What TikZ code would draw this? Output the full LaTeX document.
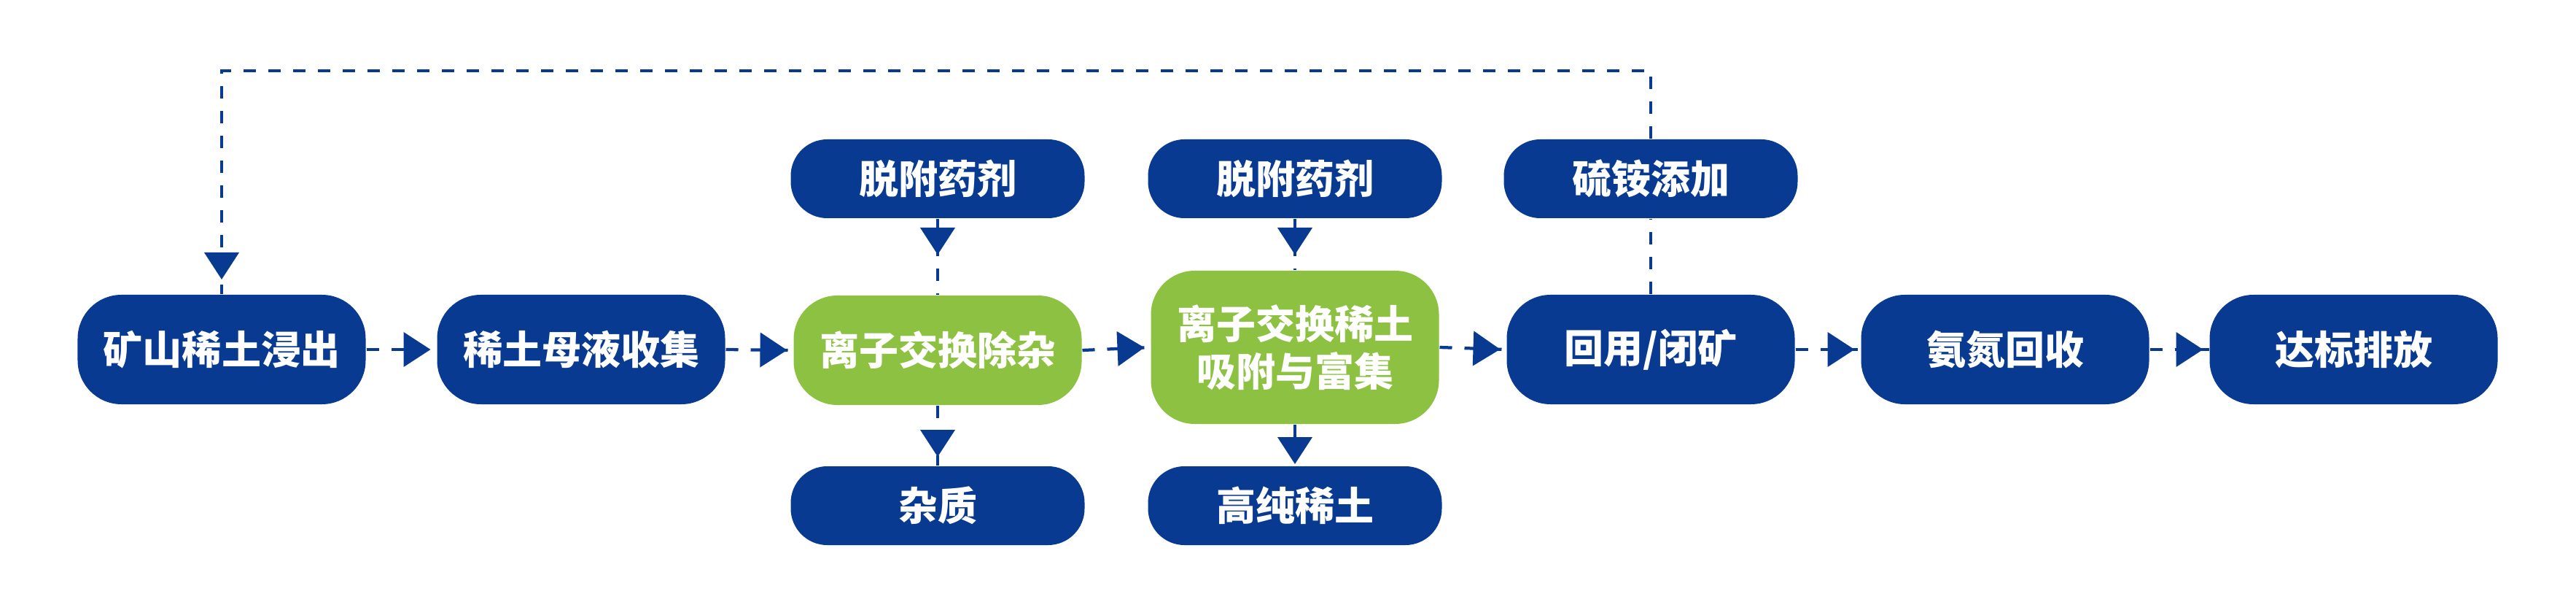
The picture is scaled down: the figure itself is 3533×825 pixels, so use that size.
\documentclass[tikz,border=0pt]{standalone}
\usepackage{fontspec}
\newfontfamily\cjk{Noto Sans CJK SC}
\usetikzlibrary{arrows.meta,decorations.markings}
\definecolor{navy}{RGB}{8,58,146}
\definecolor{leaf}{RGB}{141,193,65}
\tikzset{
  mainbox/.style={rectangle, rounded corners=12pt, fill=navy, text=white,
    minimum width=79pt, minimum height=30pt, inner sep=0pt, align=center,
    font=\cjk\bfseries\fontsize{10.8pt}{13pt}\selectfont},
  sidebox/.style={mainbox, minimum height=21.6pt, minimum width=80.6pt, rounded corners=10pt},
  greenbox/.style={mainbox, fill=leaf},
  flow/.style={draw=navy, line width=0.85pt, dash pattern=on 3.4pt off 3.4pt},
  arrowat/.style={postaction={decorate}, decoration={markings,
    mark=at position #1 with {\arrow{Triangle[length=7.4pt,width=9.4pt]}}}}
}
\begin{document}
\begin{tikzpicture}[x=0.2pt, y=-0.2pt]
\useasboundingbox[fill=white] (0,0) rectangle (3533,825);
% main row
\node[mainbox]  (n1) at (304,479)  {矿山稀土浸出};
\node[mainbox]  (n2) at (797,479)  {稀土母液收集};
\node[greenbox] (n3) at (1286,480) {离子交换除杂};
\node[greenbox, minimum height=42pt] (n4) at (1776,476) {离子交换稀土\\吸附与富集};
\node[mainbox]  (n5) at (2264,479) {回用/闭矿};
\node[mainbox]  (n6) at (2750,479) {氨氮回收};
\node[mainbox]  (n7) at (3228,479) {达标排放};
% top row
\node[sidebox] (t1) at (1286,245) {脱附药剂};
\node[sidebox] (t2) at (1776,245) {脱附药剂};
\node[sidebox] (t3) at (2264,245) {硫铵添加};
% bottom row
\node[sidebox] (b1) at (1286,693) {杂质};
\node[sidebox] (b2) at (1776,693) {高纯稀土};
% loop corners
\coordinate (lr) at (2264,97);
\coordinate (ll) at (304,97);
% horizontal connectors
\draw[flow, arrowat=-1.6pt] (n1.east) -- (n2.west);
\draw[flow, arrowat=-1.6pt] (n2.east) -- (n3.west);
\draw[flow, arrowat=-1.6pt] (n3.east) -- (n4.west);
\draw[flow, arrowat=-1.6pt] (n4.east) -- (n5.west);
\draw[flow, arrowat=-1.6pt] (n5.east) -- (n6.west);
\draw[flow, arrowat=-1.6pt] (n6.east) -- (n7.west);
% vertical connectors
\draw[flow, arrowat=-11pt] (t1.south) -- (n3.north);
\draw[flow, arrowat=-4.2pt] (t2.south) -- (n4.north);
\draw[flow, arrowat=-2.4pt] (n3.south) -- (b1.north);
\draw[flow, arrowat=-0.4pt] (n4.south) -- (b2.north);
\draw[flow] (n5.north) -- (t3.south);
\draw[flow, arrowat=-4pt] (t3.north) -- (lr) -- (ll) -- (n1.north);
\end{tikzpicture}
\end{document}
